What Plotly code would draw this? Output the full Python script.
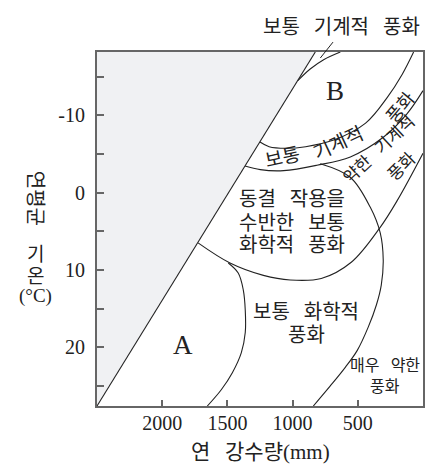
import plotly.graph_objects as go

# axis ticks
x_ticks = [2000, 1500, 1000, 500]
y_ticks = [-15, -10, -5, 0, 5, 10, 15, 20, 25]
y_labels = ["", "-10", "", "0", "", "10", "", "20", ""]

# boundaries: precipitation (mm) / temperature (°C)
edge_p = [2500, 826]
edge_t = [27.6, -18.2]

sliver_p = [960, 865, 762, 634]
sliver_t = [-14.5, -16.0, -17.2, -18.2]

mech_top_p = [1250, 1180, 1050, 900, 685, 440, 275, 160, 72]
mech_top_t = [-6.55, -5.95, -5.75, -5.95, -6.8, -9.0, -12.3, -15.3, -18.2]

mech_bot_p = [1365, 1248, 1069, 813, 557, 302, 123, 0]
mech_bot_t = [-3.45, -2.98, -2.85, -3.55, -4.63, -7.2, -10.2, -13.2]

frost_p = [1725, 1480, 1224, 1018, 780, 550, 327, 197, 0]
frost_t = [6.5, 9.1, 10.7, 11.3, 11.1, 9.0, 4.45, 1.0, -5.1]

dry_p = [788, 558, 404, 328, 305, 320, 357, 420, 504, 596, 711, 841]
dry_t = [-3.75, -2.0, 1.9, 5.2, 8.7, 11.95, 14.5, 17.4, 20.4, 22.6, 25.0, 27.6]

chem_p = [1493, 1417, 1378, 1363, 1363, 1393, 1462, 1547, 1654]
chem_t = [9.1, 10.4, 12.6, 15.2, 18.1, 20.7, 23.3, 25.5, 27.6]

LINE = "#222222"
FRAME = "#666666"
SP = "\u2002\u2009"  # wide word gap as in the reference

fig = go.Figure()

# gray area left of the diagonal
fig.add_trace(go.Scatter(x=edge_p + [edge_p[0]], y=edge_t + [edge_t[-1]],
                         fill="toself", fillcolor="#f0f1f3", mode="lines",
                         line=dict(width=0), hoverinfo="skip"))

fig.add_trace(go.Scatter(x=edge_p, y=edge_t, mode="lines",
                         line=dict(color=LINE, width=1.1)))

for px_, py_ in [(sliver_p, sliver_t), (mech_top_p, mech_top_t),
                 (mech_bot_p, mech_bot_t), (frost_p, frost_t),
                 (dry_p, dry_t), (chem_p, chem_t)]:
    fig.add_trace(go.Scatter(x=px_, y=py_, mode="lines",
                             line=dict(color=LINE, width=1.1, shape="spline")))


def note(text, x, y, size=20, angle=0, ref="data"):
    r = "x" if ref == "data" else "paper"
    return dict(x=x, y=y, xref=r, yref="y" if ref == "data" else "paper",
                text=text.replace(" ", SP), showarrow=False, textangle=angle,
                xanchor="center", yanchor="middle",
                font=dict(size=size, color=LINE))


annotations = [
    note("B", 673, -13.2, size=27),
    note("A", 1838, 19.7, size=27),
    note("보통", 1081, -4.6, size=19, angle=-12),
    note("기계적", 655, -6.4, size=19, angle=-25),
    note("풍화", 175, -11.0, size=18, angle=-50),
    note("약한 기계적", 335, -5.6, size=17, angle=-43),
    note("풍화", 159, -3.4, size=17, angle=-45),
    note("동결 작용을", 1002, 0.85),
    note("수반한 보통", 1002, 3.95),
    note("화학적 풍화", 1002, 6.8),
    note("보통 화학적", 895, 15.45),
    note("풍화", 895, 18.4),
    note("매우 약한", 289, 22.3, size=16),
    note("풍화", 289, 25.1, size=16),
    note("보통 기계적 풍화", 0.751, 1.07, ref="paper"),
    note("연 강수량(mm)", 0.503, -0.130, size=21, ref="paper"),
    note("연평균", -0.190, 0.588, size=20, angle=90, ref="paper"),
    note("기", -0.190, 0.427, size=19, ref="paper"),
    note("온", -0.190, 0.367, size=19, ref="paper"),
    note("(°C)", -0.190, 0.31, size=19, ref="paper"),
]

# page body has an 8px margin, so the figure is drawn 8px smaller
fig.update_layout(
    width=440, height=458,
    margin=dict(l=89, r=25, t=44, b=60),
    plot_bgcolor="white", paper_bgcolor="white",
    showlegend=False,
    font=dict(family="Liberation Serif, Noto Sans CJK KR", color=LINE),
    annotations=annotations,
    shapes=[dict(type="line", xref="paper", yref="paper",
                 x0=0.685, y0=0.983, x1=0.724, y1=1.028,
                 line=dict(color=LINE, width=1))],
)

axis_style = dict(showgrid=False, zeroline=False, showline=True, mirror=True,
                  linecolor=FRAME, linewidth=2, ticks="inside",
                  tickcolor=FRAME, tickwidth=1.5, tickfont=dict(size=20))

fig.update_xaxes(range=[2500, 0], tickvals=x_ticks, ticklen=6,
                 ticklabelstandoff=-2, **axis_style)
fig.update_yaxes(range=[27.6, -18.2], tickvals=y_ticks, ticktext=y_labels,
                 ticklen=7, ticklabelstandoff=6, **axis_style)

fig.write_html("out.html")
